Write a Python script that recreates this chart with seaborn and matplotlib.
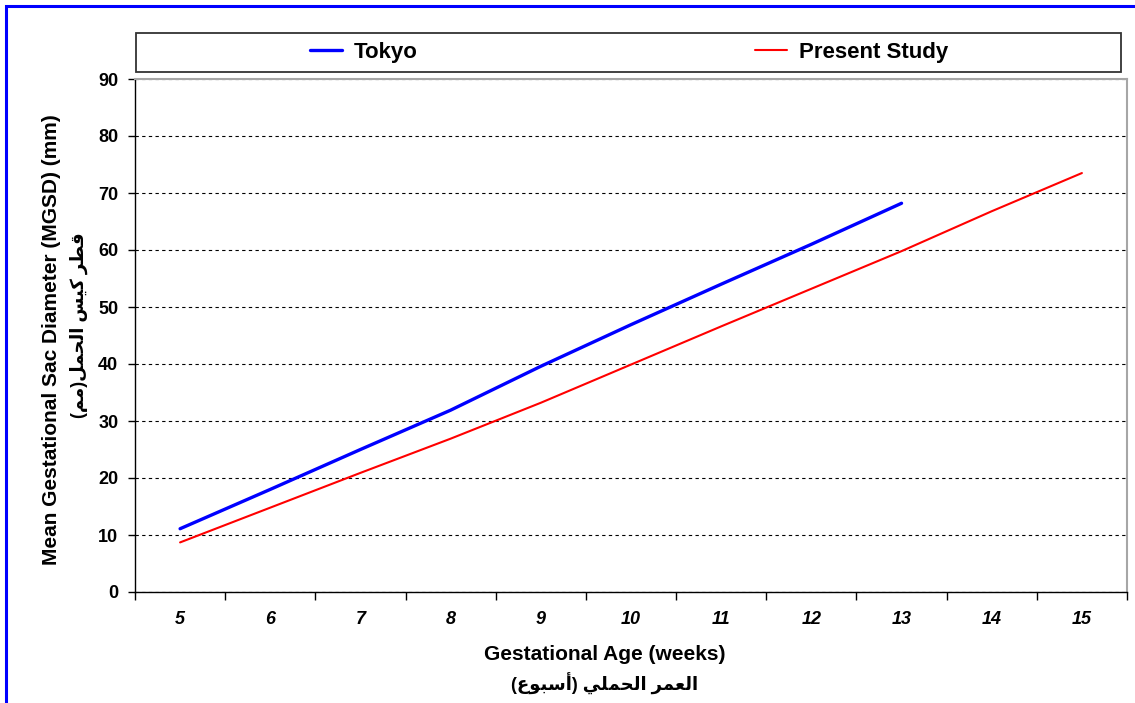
import numpy as np
import pandas as pd
import seaborn as sns
import matplotlib.pyplot as plt
from matplotlib.lines import Line2D
from matplotlib.patches import Rectangle

# values
weeks_all = [5, 6, 7, 8, 9, 10, 11, 12, 13, 14, 15]
tokyo_weeks = [5, 6, 7, 8, 9, 10, 11, 12, 13]
tokyo_mgsd = [11.1, 18.0, 25.0, 31.9, 39.6, 46.9, 54.0, 61.0, 68.2]
present_weeks = [5, 6, 7, 8, 9, 10, 11, 12, 13, 14, 15]
present_mgsd = [8.7, 14.8, 20.9, 26.9, 33.2, 39.9, 46.6, 53.2, 59.8, 66.8, 73.5]
series_names = ["Tokyo", "Present Study"]
y_ticks = [0, 10, 20, 30, 40, 50, 60, 70, 80, 90]

x_title = "Gestational Age (weeks)"
x_title_ar = "العمر الحملي (أسبوع)"
y_title = "Mean Gestational Sac Diameter (MGSD) (mm)"
y_title_ar = "قطر كيس الحمل(مم)"

# matplotlib does no arabic shaping, so pick presentation forms by hand
# (isolated, final, initial, medial)
FORMS = {
    "ا": ("\uFE8D", "\uFE8E", None, None),
    "أ": ("\uFE83", "\uFE84", None, None),
    "ب": ("\uFE8F", "\uFE90", "\uFE91", "\uFE92"),
    "ح": ("\uFEA1", "\uFEA2", "\uFEA3", "\uFEA4"),
    "ر": ("\uFEAD", "\uFEAE", None, None),
    "س": ("\uFEB1", "\uFEB2", "\uFEB3", "\uFEB4"),
    "ط": ("\uFEC1", "\uFEC2", "\uFEC3", "\uFEC4"),
    "ع": ("\uFEC9", "\uFECA", "\uFECB", "\uFECC"),
    "ق": ("\uFED5", "\uFED6", "\uFED7", "\uFED8"),
    "ك": ("\uFED9", "\uFEDA", "\uFEDB", "\uFEDC"),
    "ل": ("\uFEDD", "\uFEDE", "\uFEDF", "\uFEE0"),
    "م": ("\uFEE1", "\uFEE2", "\uFEE3", "\uFEE4"),
    "و": ("\uFEED", "\uFEEE", None, None),
    "ي": ("\uFEF1", "\uFEF2", "\uFEF3", "\uFEF4"),
}


def shape_arabic(s):
    out = []
    for i, c in enumerate(s):
        if c not in FORMS:
            out.append(c)
            continue
        prev = s[i - 1] if i > 0 else ""
        nxt = s[i + 1] if i + 1 < len(s) else ""
        jp = prev in FORMS and FORMS[prev][2] is not None
        jn = FORMS[c][2] is not None and nxt in FORMS
        iso, fin, ini, med = FORMS[c]
        out.append(med if (jp and jn) else fin if jp else ini if jn else iso)
    return "".join(reversed(out)).translate(str.maketrans("()", ")("))


sns.set_theme(style="white")
plt.rcParams["font.family"] = ["Liberation Sans", "DejaVu Sans"]
plt.rcParams["text.color"] = "black"
plt.rcParams["axes.labelcolor"] = "black"
plt.rcParams["xtick.color"] = "black"
plt.rcParams["ytick.color"] = "black"

tokyo = pd.DataFrame({"week": tokyo_weeks, "mgsd": tokyo_mgsd})
present = pd.DataFrame({"week": present_weeks, "mgsd": present_mgsd})

fig = plt.figure(figsize=(11.35, 7.03), dpi=100)
fig.patch.set_facecolor("white")
ax = fig.add_axes([135 / 1135, 1 - 592 / 703, (1127 - 135) / 1135, (592 - 79) / 703])

sns.lineplot(data=tokyo, x="week", y="mgsd", color="#0000FF", linewidth=2.4, ax=ax)
sns.lineplot(data=present, x="week", y="mgsd", color="#FF0000", linewidth=1.5, ax=ax)

ax.set_xlim(4.5, 15.5)
ax.set_ylim(0, 90)
ax.set_xlabel("")
ax.set_ylabel("")

# category boundaries get tick marks, centers get the labels
ax.set_xticks(np.arange(4.5, 15.6, 1.0))
ax.set_xticklabels([])
ax.set_xticks(weeks_all, minor=True)
ax.set_xticklabels([str(w) for w in weeks_all], minor=True,
                   fontweight="bold", fontstyle="italic", fontsize=13)
ax.tick_params(axis="x", which="major", direction="out", length=6, width=1,
               color="black", bottom=True)
ax.tick_params(axis="x", which="minor", length=0, pad=14, bottom=True,
               labelcolor="black")

ax.set_yticks(y_ticks)
ax.set_yticklabels([str(v) for v in y_ticks], fontweight="bold", fontsize=13)
ax.tick_params(axis="y", direction="out", length=5, width=1, color="black",
               pad=7, left=True, labelcolor="black")

ax.yaxis.grid(True, linestyle=(0, (3, 3)), color="black", linewidth=0.8)
ax.xaxis.grid(False)
ax.set_axisbelow(True)

for side in ["left", "bottom"]:
    ax.spines[side].set_color("black")
    ax.spines[side].set_linewidth(1.0)
for side in ["top", "right"]:
    ax.spines[side].set_color("#A6A6A6")
    ax.spines[side].set_linewidth(1.5)

# axis titles
fig.text(605 / 1135, 1 - 655 / 703, x_title, ha="center", va="center",
         fontsize=15, fontweight="bold", color="black")
fig.text(605 / 1135, 1 - 684 / 703, shape_arabic(x_title_ar), ha="center",
         va="center", fontsize=13, fontweight="bold", color="black")
fig.text(52 / 1135, 1 - 340 / 703, y_title, ha="center", va="center",
         rotation=90, fontsize=15, fontweight="bold", color="black")
fig.text(79 / 1135, 1 - 325 / 703, shape_arabic(y_title_ar), ha="center",
         va="center", rotation=90, fontsize=13, fontweight="bold", color="black")

# legend box across the top
fig.add_artist(Rectangle((136 / 1135, 1 - 72 / 703), (1121 - 136) / 1135,
                         39 / 703, transform=fig.transFigure,
                         facecolor="white", edgecolor="#333333", linewidth=1.3))
handles = [Line2D([], [], color="#0000FF", linewidth=2.4),
           Line2D([], [], color="#FF0000", linewidth=1.5)]
leg = fig.legend(handles, series_names, loc="center",
                 bbox_to_anchor=(629 / 1135, 1 - 52.5 / 703), ncol=2,
                 frameon=False, prop={"weight": "bold", "size": 16},
                 handlelength=1.45, handletextpad=0.5, columnspacing=15.2)
for t in leg.get_texts():
    t.set_color("black")

# blue outer border (only left and top edges fall inside the picture)
fig.add_artist(Rectangle((6 / 1135, -0.1), 1.2, 1 - 6 / 703 + 0.1,
                         transform=fig.transFigure, fill=False,
                         edgecolor="#0000FF", linewidth=2.2))

fig.savefig("out.png", dpi=100)
